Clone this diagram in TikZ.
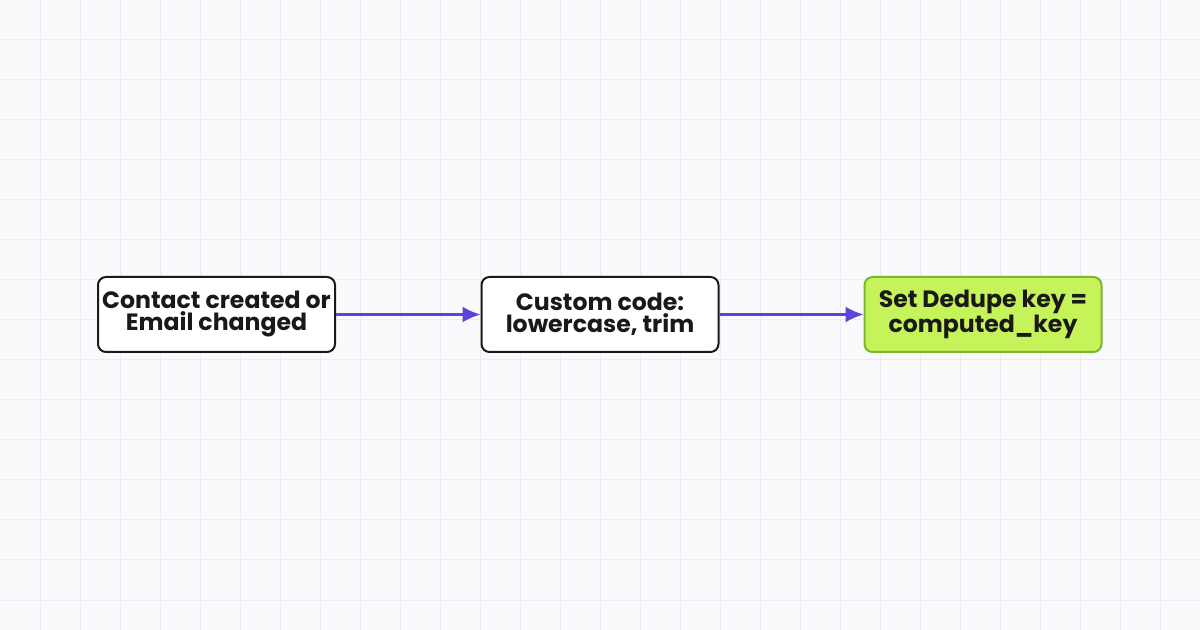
\documentclass[tikz,border=0pt]{standalone}
\usepackage{fontspec}
\setmainfont{Poppins}
\usetikzlibrary{positioning,arrows.meta}
\definecolor{fond}{HTML}{FAFAFD}
\definecolor{grille}{HTML}{ECEAF8}
\definecolor{fleche}{HTML}{5B45D9}
\definecolor{vert}{HTML}{C6F25A}
\definecolor{vertbord}{HTML}{7CB82F}
\tikzset{
  etape/.style={draw=black!90,line width=1pt,fill=white,rounded corners=4pt,
    minimum width=118.5pt,minimum height=37.5pt,align=center,inner sep=1pt,
    font=\fontsize{11.8}{11}\selectfont\bfseries,text=black!90},
  fin/.style={etape,fill=vert,draw=vertbord},
  lien/.style={fleche,line width=1.1pt,-{Latex[length=9pt,width=8pt]}}
}
\begin{document}
\begin{tikzpicture}[x=0.5pt,y=-0.5pt]
\fill[fond] (0,0) rectangle (1200,630);
\useasboundingbox (0,0) rectangle (1200,630);
% grid
\foreach \gx in {40,80,...,1160} \draw[grille,line width=0.5pt] (\gx,0) -- (\gx,630);
\foreach \gy in {40,80,...,600} \draw[grille,line width=0.5pt] (0,\gy) -- (1200,\gy);

%Etapes
\node[etape] (declencheur) at (216.5,314.5) {Contact created or\\Email changed};
\node[etape] (code) at (600,314.5) {Custom code:\\lowercase, trim};
\node[fin] (cle) at (983,314.5) {Set Dedupe key =\\computed\_key};

%Liens
\draw[lien] (declencheur) -- (code);
\draw[lien] (code) -- (cle);
\end{tikzpicture}
\end{document}
